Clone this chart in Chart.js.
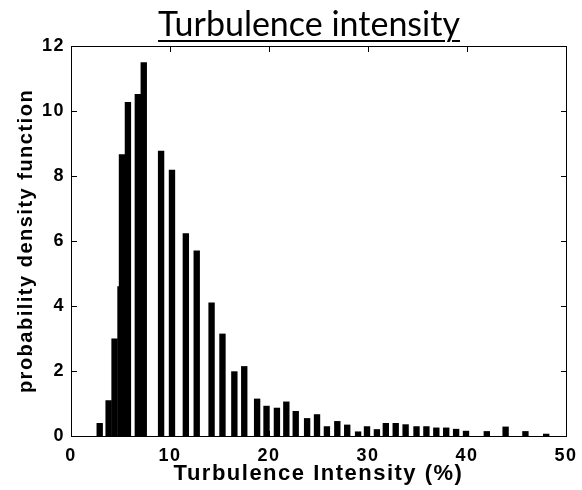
<!DOCTYPE html>
<html>
<head>
<meta charset="utf-8">
<script src="https://cdn.jsdelivr.net/npm/chart.js@4.4.1/dist/chart.umd.min.js"></script>
<style>
  html, body { margin: 0; padding: 0; background: #fff; overflow: hidden; }
  #wrap { position: relative; width: 582px; height: 490px; overflow: hidden; }
  #title {
    position: absolute; left: 0; top: 3px; width: 582px; text-align: center;
    font-family: Lato, "Open Sans", sans-serif; font-size: 34px; line-height: 40px;
    color: #000; pointer-events: none;
  }
  #title span { position: relative; left: 18px; text-decoration: underline; text-decoration-thickness: 2px; text-underline-offset: 4px; }
  canvas { position: absolute; left: 0; top: 0; }
  .mk { position: absolute; background: #000; }
  #err { position: absolute; left: 80px; top: 60px; width: 480px; color: red; font: 11px sans-serif; }
</style>
</head>
<body>
<div id="wrap">
  <canvas id="myChart" width="582" height="490"></canvas>
  <div id="title"><span>Turbulence intensity</span></div>
  <div id="err"></div>
</div>
<script>
window.onerror = function(msg){ document.getElementById('err').textContent += ' ' + msg; };

// histogram bins (centre, %) and pdf values
var binCenters = [2.9, 3.8, 4.4, 5.0, 5.15, 5.75, 6.75, 7.35, 9.1, 10.2,
                  11.6, 12.7, 14.2, 15.3, 16.5, 17.5, 18.8, 19.75, 20.8, 21.75,
                  22.7, 23.85, 24.85, 25.85, 26.9, 27.9, 29.0, 29.9, 30.9, 31.8,
                  32.8, 33.8, 34.9, 35.9, 36.9, 37.9, 38.9, 39.9, 42.0, 43.9,
                  45.9, 48.0];
var pdfValues = [0.39, 1.09, 2.99, 4.6, 8.66, 10.27, 10.51, 11.49, 8.77, 8.18,
                 6.23, 5.70, 4.10, 3.14, 1.98, 2.14, 1.14, 0.92, 0.86, 1.05,
                 0.76, 0.54, 0.66, 0.29, 0.45, 0.34, 0.13, 0.29, 0.20, 0.39,
                 0.39, 0.35, 0.29, 0.29, 0.25, 0.25, 0.21, 0.15, 0.14, 0.28,
                 0.14, 0.06];
var xTicks = [0, 10, 20, 30, 40, 50];
var yTicks = [0, 2, 4, 6, 8, 10, 12];

var points = binCenters.map(function(c, i){ return {x: c, y: pdfValues[i]}; });

var wider = {
  id: 'wider',
  beforeDraw: function(chart){
    // text in the figure is drawn a bit wider than the font
    try { chart.ctx.letterSpacing = '1.5px'; } catch (e) {}
  }
};

var tickFont = {family: '"Liberation Sans", Arial, sans-serif', size: 18, weight: 'bold'};
var xTitleFont = {family: '"Liberation Sans", Arial, sans-serif', size: 22, weight: 'bold'};
var yTitleFont = {family: '"Liberation Sans", Arial, sans-serif', size: 20, weight: 'bold'};

var chart = new Chart(document.getElementById('myChart'), {
  type: 'bar',
  data: {
    datasets: [{
      data: points,
      backgroundColor: '#000',
      borderWidth: 0,
      barThickness: 5.7
    }]
  },
  options: {
    responsive: false,
    animation: false,
    layout: {padding: {top: 46, right: 16, left: 0, bottom: 0}},
    plugins: {legend: {display: false}, tooltip: {enabled: false}},
    scales: {
      x: {
        type: 'linear', min: 0, max: 50, offset: false,
        afterBuildTicks: function(s){ s.ticks = xTicks.map(function(v){ return {value: v}; }); },
        afterFit: function(s){ s.height = 54; s.paddingRight = 16; s.paddingLeft = 0; },
        grid: {display: false, drawTicks: false, offset: false},
        border: {display: false},
        ticks: {color: '#000', font: tickFont, padding: 9, maxRotation: 0},
        title: {display: true, text: 'Turbulence Intensity (%)', color: '#000', font: xTitleFont, padding: {top: 0, bottom: 3}}
      },
      y: {
        min: 0, max: 12,
        afterBuildTicks: function(s){ s.ticks = yTicks.map(function(v){ return {value: v}; }); },
        afterFit: function(s){ s.width = 71; },
        grid: {display: false, drawTicks: false},
        border: {display: false},
        ticks: {color: '#000', font: tickFont, padding: 6},
        title: {display: true, text: 'probability density function', color: '#000', font: yTitleFont, padding: {top: 14, bottom: 0}}
      }
    }
  },
  plugins: [wider]
});

/* axes box and inward ticks (matlab style), placed from the chart's own scales */
function mark(x, y, w, h){
  var d = document.createElement('div');
  d.className = 'mk';
  d.style.left = x + 'px'; d.style.top = y + 'px';
  d.style.width = w + 'px'; d.style.height = h + 'px';
  document.getElementById('wrap').appendChild(d);
}
try {
  var a = chart.chartArea, xs = chart.scales.x, ys = chart.scales.y, len = 5;
  var l = Math.round(a.left), r = Math.round(a.right), t = Math.round(a.top), b = Math.round(a.bottom);
  mark(l, t, r - l + 1, 1);
  mark(l, b, r - l + 1, 1);
  mark(l, t, 1, b - t + 1);
  mark(r, t, 1, b - t + 1);
  xTicks.forEach(function(v){
    var px = Math.round(xs.getPixelForValue(v));
    mark(px, b - len, 1, len);
    mark(px, t + 1, 1, len);
  });
  yTicks.forEach(function(v){
    var py = Math.round(ys.getPixelForValue(v));
    mark(l + 1, py, len, 1);
    mark(r - len, py, len, 1);
  });
} catch (e) {
  document.getElementById('err').textContent += ' ' + e;
}
</script>
</body>
</html>
